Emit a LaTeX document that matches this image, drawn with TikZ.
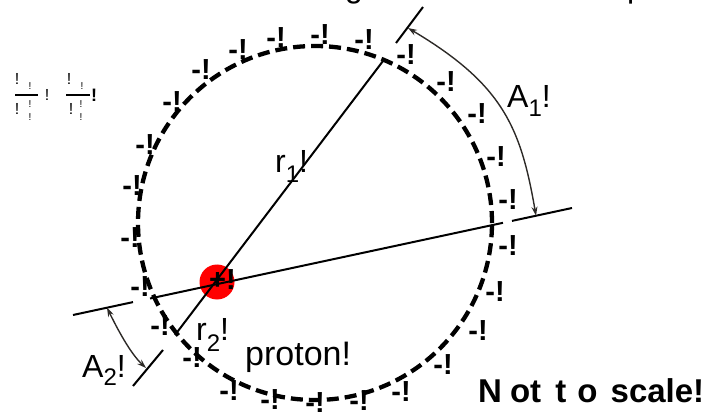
\documentclass[tikz,border=0pt]{standalone}
\usepackage{fontspec}
\setmainfont{Liberation Sans}
\usetikzlibrary{arrows.meta,calc}
\begin{document}
\begin{tikzpicture}[x=1pt,y=-1pt,
  chg/.style={font=\bfseries\fontsize{29}{29}\selectfont, inner sep=0pt},
  lbl/.style={font=\fontsize{32}{32}\selectfont, inner sep=0pt, anchor=base west},
  axisline/.style={line width=2pt, black},
  anglearc/.style={line width=1.4pt, black!90!olive, {Stealth[length=9pt,width=6pt]}-{Stealth[length=9pt,width=6pt]}},
  ring/.style={circle, draw=black, line width=4.3pt, dash pattern=on 12pt off 6pt, inner sep=0pt, minimum size=354pt},
  bigex/.style={font=\fontsize{16}{16}\selectfont, inner sep=0pt},
  smallex/.style={font=\fontsize{10}{10}\selectfont, inner sep=0pt},
  fracbar/.style={line width=1.3pt, black}]
\useasboundingbox (0,0) rectangle (711,419);

% cut-off text at the top edge
\node[lbl] (topg) at (345,-2) {g};
\node[lbl] (topp) at (627,-2) {p};

% ring of charges
\node[ring] (shell) at (315,223) {};

% proton
\node[circle, fill=red, inner sep=0pt, minimum size=35pt] (proton) at (217,282) {};

% r1 line (with gaps)
\coordinate (a1) at (133,386);
\coordinate (a2) at (163,350);
\coordinate (a3) at (175,335);
\coordinate (a4) at (383,61);
\coordinate (a5) at (396,43);
\coordinate (a6) at (423,7);
\draw[axisline] (a1) -- (a2);
\draw[axisline] (a3) -- (a4);
\draw[axisline] (a5) -- (a6);

% second line (with gaps)
\coordinate (b1) at (73,315);
\coordinate (b2) at (133,302.1);
\coordinate (b3) at (150,298.5);
\coordinate (b4) at (503,222.8);
\coordinate (b5) at (512,220.9);
\coordinate (b6) at (572,208.0);
\draw[axisline] (b1) -- (b2);
\draw[axisline] (b3) -- (b4);
\draw[axisline] (b5) -- (b6);

% angle arcs
\coordinate (p1s) at (536,215.7);
\coordinate (p1e) at (408,28);
\draw[anglearc] (p1s) .. controls (520.7,127) and (502.5,84.2) .. (p1e);
\coordinate (p2s) at (107,307.7);
\coordinate (p2e) at (146,368);
\draw[anglearc] (p2s) .. controls (116.8,327.7) and (130,353) .. (p2e);

% charges
\foreach \x/\y [count=\i] in {172/102,201/70,238/50,276/38,320/35,364/40,406/55,446/82,477/114,496/157,508/200,508/246,495/292,478/331,443/365,401/392,359/401,315/403,270/400,229/391,192/358,160/326,140/287,130/238,132/186,145/145}
  \node[chg] (e\i) at (\x,\y) {-!};
\node[chg, anchor=base west] (pp) at (209,290) {+!};

% labels
\node[lbl] (A1) at (507,108) {A\raisebox{-9pt}{\fontsize{24}{24}\selectfont 1}!};
\node[lbl] (A2) at (82,377) {A\raisebox{-8pt}{\fontsize{24}{24}\selectfont 2}!};
\node[lbl] (r1) at (275,173) {r\raisebox{-10pt}{\fontsize{24}{24}\selectfont 1}!};
\node[lbl] (r2) at (196,340) {r\raisebox{-11pt}{\fontsize{24}{24}\selectfont 2}!};
\node[lbl, font=\fontsize{34}{34}\selectfont] (prot) at (245,365) {proton!};
\node[lbl, font=\bfseries\fontsize{33}{33}\selectfont] (nts) at (478,402) {N\hspace{8pt}ot\hspace{5pt} t\hspace{11pt}o\hspace{4pt} scale!};

% garbled fractions top left
\draw[fracbar] (15,95) -- (38,95);
\node[bigex] (f1a) at (17,79) {!};
\node[smallex] (f1b) at (30,86) {!};
\node[bigex] (f1c) at (17,109) {!};
\node[smallex] (f1d) at (30,104) {!};
\node[smallex] (f1e) at (30,117) {!};
\node[bigex] (f1f) at (47,95) {!};
\draw[fracbar] (66,95) -- (90,95);
\node[bigex] (f2a) at (69,79) {!};
\node[smallex] (f2b) at (82,86) {!};
\node[bigex] (f2c) at (71,109) {!};
\node[smallex] (f2d) at (81,104) {!};
\node[smallex] (f2e) at (81,117) {!};
\node[bigex, font=\bfseries\fontsize{18}{18}\selectfont] (f2f) at (94,95) {!};
\end{tikzpicture}
\end{document}
